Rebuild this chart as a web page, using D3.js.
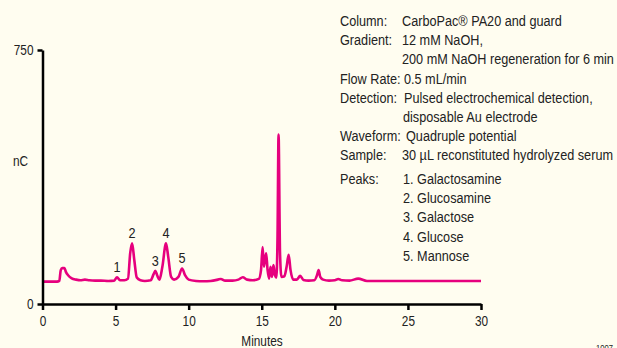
<!DOCTYPE html>
<html><head><meta charset="utf-8">
<script src="https://cdn.jsdelivr.net/npm/d3@7"></script>
<style>
html,body{margin:0;padding:0;background:#FFFDF0;}
svg{display:block;}
text{font-family:"Liberation Sans",Arial,sans-serif;fill:#222;}
</style></head>
<body><svg id="c" width="617" height="348"></svg>
<script>
// Chromatogram trace: retention time (min) and response (nC)
const times = [0,1.0,1.15,1.25,1.35,1.5,1.6,1.75,2.0,2.3,2.6,2.9,3.2,3.6,4.0,4.5,4.9,5.1,5.3,5.6,5.85,6.0,6.13,6.28,6.45,6.7,7.0,7.4,7.6,7.72,7.85,8.0,8.2,8.45,8.6,8.8,9.0,9.3,9.55,9.75,10.0,10.5,11.0,11.5,12.0,12.2,12.5,13.0,13.4,13.7,14.0,14.4,14.8,14.95,15.06,15.15,15.3,15.4,15.5,15.6,15.7,15.8,15.9,16.0,16.08,16.15,16.25,16.35,16.55,16.7,16.84,16.97,17.15,17.4,17.63,17.85,18.2,18.6,18.78,18.89,19.0,19.2,19.6,20.0,20.23,20.5,21.0,21.6,22.2,23.0,25.0,27.0,30.0];
const response = [66,66,68,100,106,106,95,85,76,72,70,72,70,69,69,68,69,79,70,70,75,150,179,130,78,70,68,70,88,98,84,72,110,179,140,80,72,80,105,85,72,68,67,68,72,74,69,69,72,79,72,70,74,100,168,110,150,100,75,110,80,115,85,78,200,500,150,80,82,110,145,100,72,72,83,71,69,70,85,100,80,72,69,70,74,70,69,75,68,68,68,68,68];
const peakLabels = ["1","2","3","4","5"];
const peakTimes = [5.1,6.13,7.72,8.45,9.55];
const peakHeights = [79,179,98,179,105];
const xTicks = [0,5,10,15,20,25,30];
const yTicks = [0,750];
const infoLabels = ["Column:","Gradient:","","Flow Rate:","Detection:","","Waveform:","Sample:"];
const infoValues = ["CarboPac\u00AE PA20 and guard","12 mM NaOH,","200 mM NaOH regeneration for 6 min","0.5 mL/min","Pulsed electrochemical detection,","disposable Au electrode","Quadruple potential","30 \u00B5L reconstituted hydrolyzed serum"];
const infoValueX = [402,402,402,404,404,403,406,402];
const peakNames = ["1. Galactosamine","2. Glucosamine","3. Galactose","4. Glucose","5. Mannose"];

const SX = 0.845; // condensed typeface look
const svg = d3.select("#c");
const x = d3.scaleLinear().domain([0,30]).range([42.5,481]);
const y = d3.scaleLinear().domain([0,750]).range([304,50]);

function txt(px, py, s, size, anchor, fill){
  return svg.append("text")
    .attr("transform",`translate(${px},${py}) scale(${SX},1)`)
    .attr("font-size",size).attr("text-anchor",anchor||"start")
    .attr("fill",fill||"#222").text(s);
}

// trace
const line = d3.line().x((d,i)=>x(times[i])).y(d=>y(d)).curve(d3.curveMonotoneX);
svg.append("path").datum(response).attr("d",line)
  .attr("fill","none").attr("stroke","#E6007E").attr("stroke-width",2.6).attr("stroke-linejoin","round");

// axes
const xa = svg.append("g").attr("transform","translate(0,304)")
  .call(d3.axisBottom(x).tickValues(xTicks).tickSize(6).tickSizeOuter(0).tickPadding(6));
const ya = svg.append("g").attr("transform","translate(42.5,0)")
  .call(d3.axisLeft(y).tickValues(yTicks).tickSize(5).tickSizeOuter(0).tickPadding(4));
[xa,ya].forEach(g=>{
  g.select(".domain").attr("stroke","#000").attr("stroke-width",2.5);
  g.selectAll(".tick line").attr("stroke","#000").attr("stroke-width",2.5);
  g.selectAll(".tick text").attr("font-size",14).attr("fill","#222")
   .attr("font-family","'Liberation Sans',Arial,sans-serif");
});
xa.selectAll(".tick text").attr("transform",`scale(${SX},1)`);
ya.selectAll(".tick text").attr("transform",`scale(${SX},1)`).attr("x",-9/SX);

txt(20.5,166,"nC",14,"middle");
txt(262,346,"Minutes",14,"middle");

// peak labels
peakLabels.forEach((d,i)=>txt(x(peakTimes[i]), y(peakHeights[i])-5, d, 15, "middle"));

// info block
const lh = 19.2;
infoLabels.forEach((t,i)=>{
  if(t) txt(340,26+i*lh,t,15);
  txt(infoValueX[i],26+i*lh,infoValues[i],15);
});
txt(340,184,"Peaks:",15);
peakNames.forEach((t,i)=>txt(403,184+i*lh,t,15));
txt(596,351,"1007",9,"start","#444");
</script></body></html>
